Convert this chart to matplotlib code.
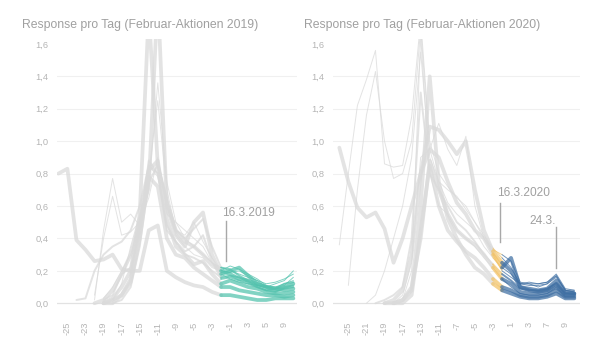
import numpy as np
import matplotlib
matplotlib.use("Agg")
import matplotlib.pyplot as plt

plt.rcParams['font.family'] = ['Liberation Sans', 'DejaVu Sans']

nan = np.nan

# ---------------- data ----------------
titles = ["Response pro Tag (Februar-Aktionen 2019)", "Response pro Tag (Februar-Aktionen 2020)"]

days_2019 = [-26, -25, -24, -23, -20, -19, -18, -17, -16, -15, -12, -11, -10, -9,
             -6, -5, -4, -3, -2, -1, 2, 3, 4, 5, 8, 9, 10]
days_2020 = [-26, -25, -22, -21, -20, -19, -18, -17, -14, -13, -12, -11, -8, -7,
             -6, -5, -4, -3, 0, 1, 2, 3, 6, 7, 8, 9, 10]

# response per day, one list per campaign (2019)
resp_2019 = [
    [0.80, 0.83, 0.39, 0.33, 0.26, 0.27, 0.30, 0.21, 0.20, 0.20, 0.45, 0.48, 0.20, 0.16, 0.13, 0.11, 0.10, 0.07, 0.05, 0.05, 0.04, 0.03, 0.02, 0.02, 0.03, 0.03, 0.03],
    [nan, nan, nan, nan, nan, 0.00, 0.03, 0.10, 0.20, 0.55, 1.80, 0.85, 0.62, 0.45, 0.38, 0.35, 0.30, 0.24, 0.20, 0.18, 0.15, 0.14, 0.12, 0.10, 0.09, 0.08, 0.09],
    [nan, nan, nan, nan, 0.00, 0.02, 0.08, 0.18, 0.30, 0.50, 0.72, 1.90, 0.60, 0.42, 0.35, 0.50, 0.56, 0.30, 0.18, 0.20, 0.22, 0.17, 0.12, 0.10, 0.08, 0.10, 0.12],
    [nan, nan, nan, nan, 0.02, 0.45, 0.77, 0.50, 0.55, 0.48, 0.70, 1.36, 0.75, 0.50, 0.40, 0.35, 0.30, 0.25, 0.22, 0.20, 0.18, 0.16, 0.14, 0.12, 0.13, 0.15, 0.18],
    [nan, nan, nan, nan, 0.05, 0.40, 0.66, 0.42, 0.44, 0.50, 0.80, 1.25, 0.70, 0.45, 0.42, 0.50, 0.38, 0.28, 0.20, 0.23, 0.21, 0.18, 0.15, 0.11, 0.10, 0.12, 0.14],
    [nan, nan, 0.02, 0.03, 0.20, 0.30, 0.35, 0.38, 0.45, 0.60, 0.85, 0.80, 0.45, 0.38, 0.30, 0.28, 0.25, 0.20, 0.16, 0.17, 0.16, 0.13, 0.10, 0.08, 0.07, 0.09, 0.10],
    [nan, nan, nan, nan, nan, 0.00, 0.02, 0.05, 0.15, 0.45, 0.82, 0.88, 0.52, 0.35, 0.30, 0.24, 0.26, 0.18, 0.12, 0.14, 0.12, 0.10, 0.09, 0.07, 0.06, 0.06, 0.07],
    [nan, nan, nan, nan, nan, nan, 0.00, 0.02, 0.10, 0.35, 0.75, 0.85, 0.65, 0.45, 0.40, 0.46, 0.52, 0.35, 0.22, 0.21, 0.17, 0.14, 0.11, 0.10, 0.09, 0.12, 0.13],
    [nan, nan, nan, nan, nan, 0.03, 0.10, 0.20, 0.30, 0.50, 0.65, 0.90, 0.60, 0.42, 0.35, 0.30, 0.28, 0.22, 0.20, 0.19, 0.20, 0.17, 0.14, 0.10, 0.12, 0.14, 0.20],
    [nan, nan, nan, nan, nan, 0.00, 0.00, 0.05, 0.13, 0.40, 0.78, 0.72, 0.40, 0.30, 0.28, 0.22, 0.18, 0.14, 0.10, 0.10, 0.08, 0.07, 0.06, 0.05, 0.05, 0.04, 0.05],
    [nan, nan, nan, nan, nan, nan, 0.02, 0.12, 0.35, 0.55, 0.85, 0.78, 0.55, 0.50, 0.45, 0.40, 0.35, 0.25, 0.18, 0.15, 0.13, 0.12, 0.11, 0.10, 0.10, 0.11, 0.16],
    [nan, nan, nan, nan, nan, 0.02, 0.05, 0.18, 0.22, 0.45, 0.88, 0.80, 0.48, 0.38, 0.32, 0.35, 0.42, 0.26, 0.15, 0.16, 0.14, 0.12, 0.10, 0.08, 0.09, 0.10, 0.11],
]
widths_2019 = [2.7, 2.7, 2.7, 0.7, 0.7, 1.4, 2.7, 1.4, 0.7, 2.7, 0.7, 1.4]

# response per day, one list per campaign (2020)
resp_2020 = [
    [0.36, 0.80, 1.22, 1.38, 1.56, 0.86, 0.84, 0.85, 1.15, 1.75, 1.00, 0.80, 0.72, 0.65, 0.60, 0.50, 0.40, 0.33, 0.30, 0.26, 0.13, 0.12, 0.12, 0.13, 0.18, 0.09, 0.08],
    [nan, 0.11, 0.70, 1.16, 1.43, 1.00, 0.77, 0.80, 1.00, 1.70, 0.95, 0.75, 0.62, 0.55, 0.50, 0.45, 0.35, 0.28, 0.22, 0.18, 0.12, 0.12, 0.10, 0.12, 0.16, 0.08, 0.07],
    [0.96, 0.75, 0.59, 0.53, 0.56, 0.46, 0.25, 0.40, 0.60, 0.80, 0.95, 0.90, 0.75, 0.62, 0.55, 0.45, 0.40, 0.30, 0.22, 0.28, 0.10, 0.08, 0.07, 0.08, 0.12, 0.06, 0.06],
    [nan, nan, nan, nan, nan, 0.00, 0.02, 0.08, 0.30, 0.80, 1.09, 1.07, 1.00, 0.92, 1.00, 0.70, 0.45, 0.32, 0.25, 0.20, 0.10, 0.09, 0.08, 0.09, 0.14, 0.07, 0.06],
    [nan, nan, nan, nan, nan, nan, 0.00, 0.05, 0.25, 0.90, 0.95, 1.11, 0.95, 0.85, 1.03, 0.60, 0.40, 0.30, 0.20, 0.16, 0.12, 0.13, 0.12, 0.13, 0.17, 0.08, 0.07],
    [nan, nan, nan, nan, nan, nan, nan, 0.02, 0.20, 1.65, 0.80, 0.60, 0.55, 0.45, 0.40, 0.35, 0.28, 0.22, 0.15, 0.10, 0.06, 0.05, 0.05, 0.06, 0.10, 0.04, 0.04],
    [nan, nan, nan, nan, nan, nan, 0.00, 0.00, 0.05, 0.45, 0.85, 0.60, 0.45, 0.38, 0.32, 0.28, 0.22, 0.15, 0.10, 0.08, 0.05, 0.04, 0.04, 0.05, 0.08, 0.04, 0.04],
    [nan, nan, nan, nan, nan, 0.00, 0.00, 0.02, 0.10, 0.40, 0.88, 0.70, 0.55, 0.45, 0.40, 0.36, 0.30, 0.22, 0.15, 0.12, 0.07, 0.06, 0.06, 0.07, 0.10, 0.05, 0.05],
    [nan, nan, nan, nan, 0.00, 0.02, 0.05, 0.10, 0.40, 1.30, 0.80, 0.70, 0.60, 0.50, 0.45, 0.38, 0.30, 0.24, 0.18, 0.14, 0.09, 0.08, 0.08, 0.09, 0.12, 0.06, 0.06],
    [nan, nan, nan, 0.00, 0.05, 0.20, 0.40, 0.60, 0.90, 1.55, 0.90, 0.75, 0.70, 0.66, 0.58, 0.50, 0.42, 0.34, 0.28, 0.22, 0.12, 0.11, 0.11, 0.12, 0.17, 0.08, 0.08],
    [nan, nan, nan, nan, nan, nan, 0.00, 0.02, 0.08, 0.60, 1.40, 0.75, 0.52, 0.40, 0.30, 0.22, 0.18, 0.12, 0.08, 0.06, 0.04, 0.03, 0.03, 0.04, 0.06, 0.03, 0.03],
]
widths_2020 = [0.7, 0.7, 2.7, 2.7, 0.7, 0.7, 2.7, 2.7, 1.4, 0.7, 2.7]

tick_labels_2019 = ["-25", "-23", "-19", "-17", "-15", "-11", "-9", "-5", "-3", "-1", "3", "5", "9"]
tick_labels_2020 = ["-25", "-21", "-19", "-17", "-13", "-11", "-7", "-5", "-3", "1", "3", "7", "9"]

event_2019 = -2     # 16.3.2019 (first teal day)
event_2020 = 0      # 16.3.2020
yellow_start_2020 = -3
peak_2020 = 8       # 24.3.

# ---------------- style ----------------
GREY = '#dadada'
TEAL = '#52c2ad'
BLUE = '#3f6fa3'
YELLOW = '#f2c266'
TXT = '#a0a0a0'
TICK = '#b5b5b5'

fig = plt.figure(figsize=(6.0, 3.4), dpi=100)
axL = fig.add_axes([0.095, 0.07, 0.40, 0.815])
axR = fig.add_axes([0.555, 0.07, 0.412, 0.815])


def style(ax, days, labels, xlim):
    ax.set_ylim(-0.08, 1.63)
    ax.set_xlim(*xlim)
    for s in ax.spines.values():
        s.set_visible(False)
    yt = [0.0, 0.2, 0.4, 0.6, 0.8, 1.0, 1.2, 1.4, 1.6]
    ax.set_yticks(yt)
    ax.set_yticklabels([f"{v:.1f}".replace('.', ',') for v in yt], fontsize=6.7, color=TICK)
    for v in yt[1:-1]:
        ax.axhline(v, color='#f0f0f0', lw=0.8, zorder=0)
    ax.axhline(0.0, color='#e2e2e2', lw=0.9, zorder=0)
    pos = [days.index(int(l)) for l in labels]
    ax.set_xticks(pos)
    ax.set_xticklabels(labels, rotation=90, fontsize=6.7, color=TICK)
    ax.tick_params(length=0, pad=4)
    ax.tick_params(axis='y', pad=6)


x19 = np.arange(len(days_2019))
x20 = np.arange(len(days_2020))

# 2019 panel
e19 = days_2019.index(event_2019)
for vals, lw in zip(resp_2019, widths_2019):
    v = np.array(vals)
    axL.plot(x19[:e19 + 1], v[:e19 + 1], color=GREY, lw=lw, alpha=0.75,
             solid_joinstyle='round', solid_capstyle='round', zorder=2)
for vals, lw in zip(resp_2019, widths_2019):
    v = np.array(vals)
    axL.plot(x19[e19:], v[e19:], color=TEAL, lw=lw, alpha=0.72,
             solid_joinstyle='round', solid_capstyle='round', zorder=3)
style(axL, days_2019, tick_labels_2019, (-0.15, 26.4))
ax_x = e19 + 0.5
axL.plot([ax_x, ax_x], [0.26, 0.51], color='#a8a8a8', lw=1.0, zorder=4)
axL.text(ax_x - 0.35, 0.54, "16.3.2019", fontsize=8.6, color=TXT, ha='left', va='baseline')

# 2020 panel
y20 = days_2020.index(yellow_start_2020)
e20 = days_2020.index(event_2020)
p20 = days_2020.index(peak_2020)
for vals, lw in zip(resp_2020, widths_2020):
    v = np.array(vals)
    axR.plot(x20[:y20 + 1], v[:y20 + 1], color=GREY, lw=lw, alpha=0.75,
             solid_joinstyle='round', solid_capstyle='round', zorder=2)
for vals, lw in zip(resp_2020, widths_2020):
    v = np.array(vals)
    axR.plot(x20[y20:e20 + 1], v[y20:e20 + 1], color=YELLOW, lw=lw, alpha=0.72,
             solid_joinstyle='round', solid_capstyle='round', zorder=3)
for vals, lw in zip(resp_2020, widths_2020):
    v = np.array(vals)
    axR.plot(x20[e20:], v[e20:], color=BLUE, lw=lw, alpha=0.72,
             solid_joinstyle='round', solid_capstyle='round', zorder=4)
style(axR, days_2020, tick_labels_2020, (-0.7, 26.65))
axR.plot([e20 - 0.2, e20 - 0.2], [0.38, 0.62], color='#a8a8a8', lw=1.0, zorder=5)
axR.text(e20 - 0.55, 0.66, "16.3.2020", fontsize=8.6, color=TXT, ha='left', va='baseline')
axR.plot([p20, p20], [0.22, 0.47], color='#a8a8a8', lw=1.0, zorder=5)
axR.text(p20 - 0.1, 0.49, "24.3.", fontsize=8.6, color=TXT, ha='right', va='baseline')

fig.text(0.037, 0.918, titles[0], fontsize=8.8, color=TXT, ha='left', va='baseline')
fig.text(0.507, 0.918, titles[1], fontsize=8.8, color=TXT, ha='left', va='baseline')

fig.savefig("out.png", dpi=100, facecolor='white')
